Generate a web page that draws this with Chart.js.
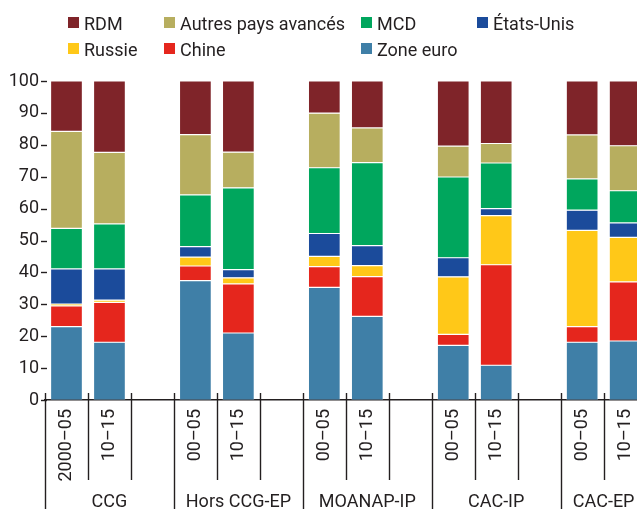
<!DOCTYPE html>
<html>
<head>
<meta charset="utf-8">
<script src="https://cdn.jsdelivr.net/npm/chart.js@4/dist/chart.umd.min.js"></script>
<style>
  html, body { margin: 0; padding: 0; background: #fff; overflow: hidden; width: 637px; height: 509px; }
  #wrap { position: relative; width: 656px; height: 509px; }
  #legend {
    position: absolute; left: 68px; top: 11px;
    display: grid; grid-template-columns: 96px 197px 116px auto;
    grid-auto-rows: 26px;
    font-family: Roboto, "Liberation Sans", sans-serif;
    font-size: 18px; line-height: 26px; color: #231f20; white-space: nowrap;
  }
  .item { display: flex; align-items: flex-start; }
  .box { width: 11px; height: 11px; margin-top: 6px; margin-right: 5px; flex: none; }
</style>
</head>
<body>
<div id="wrap">
  <canvas id="c" width="656" height="509"></canvas>
  <div id="legend"></div>
</div>
<script>
// ---- data ----
const categories = ['2000–05', '10–15', '', '00–05', '10–15', '', '00–05', '10–15', '', '00–05', '10–15', '', '00–05', '10–15'];
const groups = ['CCG', 'Hors CCG-EP', 'MOANAP-IP', 'CAC-IP', 'CAC-EP'];
const yTicks = [0, 10, 20, 30, 40, 50, 60, 70, 80, 90, 100];

const zoneEuro   = [23.0, 18.1, null, 37.4, 21.0, null, 35.3, 26.2, null, 17.1, 10.9, null, 18.1, 18.5];
const chine      = [ 6.5, 12.5, null,  4.6, 15.4, null,  6.5, 12.5, null,  3.5, 31.5, null,  4.9, 18.5];
const russie     = [ 0.6,  0.7, null,  2.8,  1.9, null,  3.2,  3.4, null, 18.0, 15.4, null, 30.2, 14.0];
const etatsUnis  = [11.0,  9.8, null,  3.3,  2.6, null,  7.2,  6.3, null,  6.0,  2.2, null,  6.3,  4.5];
const mcd        = [12.7, 14.1, null, 16.2, 25.6, null, 20.6, 26.0, null, 25.3, 14.3, null,  9.8, 10.1];
const autres     = [30.4, 22.4, null, 18.9, 11.2, null, 17.1, 10.9, null,  9.7,  6.1, null, 13.8, 14.1];
const rdm        = [15.8, 22.4, null, 16.8, 22.3, null, 10.1, 14.7, null, 20.4, 19.6, null, 16.9, 20.3];

const seriesNames = ['Zone euro', 'Chine', 'Russie', 'États-Unis', 'MCD', 'Autres pays avancés', 'RDM'];
const seriesData = [zoneEuro, chine, russie, etatsUnis, mcd, autres, rdm];
const seriesColors = ['#3f7fa7', '#e5261d', '#ffc818', '#1b4b9b', '#00a65d', '#b7ae5f', '#7f2429'];
const legendOrder = ['RDM', 'Autres pays avancés', 'MCD', 'États-Unis', 'Russie', 'Chine', 'Zone euro'];

// ---- styles ----
const FONT = 'Roboto, "Liberation Sans", sans-serif';
const INK = '#231f20';

// legend
const legendEl = document.getElementById('legend');
legendOrder.forEach(name => {
  const i = seriesNames.indexOf(name);
  const it = document.createElement('div');
  it.className = 'item';
  const b = document.createElement('span');
  b.className = 'box';
  b.style.background = seriesColors[i];
  const t = document.createElement('span');
  t.textContent = name;
  it.appendChild(b); it.appendChild(t);
  legendEl.appendChild(it);
});

const axisDecor = {
  id: 'axisDecor',
  afterDraw(chart) {
    const ctx = chart.ctx;
    const xs = chart.scales.x, ys = chart.scales.y;
    const bottom = chart.chartArea.bottom;
    const n = categories.length;
    const step = xs.getPixelForValue(1) - xs.getPixelForValue(0);
    const edge = i => xs.getPixelForValue(0) - step / 2 + i * step;
    ctx.save();
    ctx.strokeStyle = INK;
    ctx.lineWidth = 1.4;
    // slot boundary lines
    for (let i = 0; i <= n; i++) {
      const x = Math.round(edge(i)) + 0.5;
      const long = i % 3 === 0 || i === n;
      ctx.beginPath();
      ctx.moveTo(x, bottom - 7);
      ctx.lineTo(x, long ? chart.height : bottom + 80);
      ctx.stroke();
    }
    // y tick dashes
    yTicks.forEach(v => {
      const y = Math.round(ys.getPixelForValue(v)) + 0.5;
      ctx.beginPath();
      ctx.moveTo(xs.left - 4, y);
      ctx.lineTo(xs.left + 2, y);
      ctx.stroke();
    });
    // group labels
    ctx.fillStyle = INK;
    ctx.font = '18px ' + FONT;
    ctx.textAlign = 'center';
    ctx.textBaseline = 'alphabetic';
    groups.forEach((g, k) => {
      const a = edge(k * 3), b = edge(Math.min(k * 3 + 3, n));
      ctx.fillText(g, (a + b) / 2, bottom + 107);
    });
    ctx.restore();
  }
};

new Chart(document.getElementById('c'), {
  type: 'bar',
  data: {
    labels: categories,
    datasets: seriesNames.map((n, i) => ({
      label: n,
      data: seriesData[i],
      backgroundColor: seriesColors[i],
      borderColor: 'rgba(255,255,255,0.35)',
      borderWidth: 0.6,
      borderSkipped: false,
      categoryPercentage: 1,
      barPercentage: 0.742
    }))
  },
  options: {
    responsive: false,
    animation: false,
    devicePixelRatio: 1,
    layout: { padding: { top: 81, left: 0, right: 7.6, bottom: 0 } },
    plugins: { legend: { display: false }, tooltip: { enabled: false } },
    scales: {
      x: {
        stacked: true,
        grid: { display: false, drawTicks: false },
        border: { display: true, color: INK, width: 1.4 },
        ticks: {
          autoSkip: false, minRotation: 90, maxRotation: 90, padding: 9,
          color: INK, font: { family: FONT, size: 18 }
        },
        afterFit(s) { s.height = 109; }
      },
      y: {
        stacked: true, min: 0, max: 100,
        grid: { display: false, drawTicks: false },
        border: { display: false },
        ticks: {
          stepSize: 10, padding: 6, color: INK,
          font: { family: FONT, size: 18 }
        },
        afterFit(s) { s.width = 45; }
      }
    }
  },
  plugins: [axisDecor]
});
</script>
</body>
</html>
